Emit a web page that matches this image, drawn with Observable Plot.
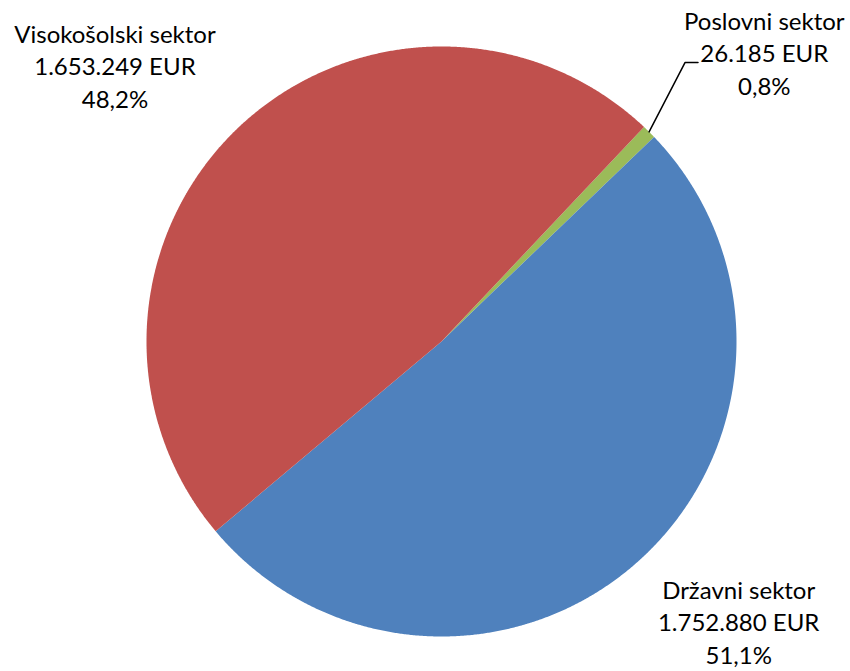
<!DOCTYPE html>
<html><head><meta charset="utf-8">
<script src="https://cdn.jsdelivr.net/npm/d3@7"></script>
<script src="https://cdn.jsdelivr.net/npm/@observablehq/plot@0.6"></script>
<style>body{margin:0;background:#fff;overflow:hidden}</style>
</head><body><div id="chart"></div>
<script>
// ---- data ----
const sectors = ["Poslovni sektor", "Državni sektor", "Visokošolski sektor"];
const amounts = [26185, 1752880, 1653249];
const amountLabels = ["26.185 EUR", "1.752.880 EUR", "1.653.249 EUR"];
const percentLabels = ["0,8%", "51,1%", "48,2%"];
const colors = ["#9BBB59", "#4F81BD", "#C0504D"];

// ---- layout ----
const W = 850, H = 671;
const cx = 441, cy = 341, R = 295;
const startAngle = 43.35;           // degrees, clockwise from 12 o'clock
const labelRadius = 1.42;
const labelOffsets = [[28, 8], [17, -32], [-39, 28]]; // px nudges per label
const fontSize = 24;
const lineGap = 32.5;

const total = d3.sum(amounts);
const rad = a => a * Math.PI / 180;
const polar = (deg, r) => ({x: r * Math.sin(rad(deg)), y: r * Math.cos(rad(deg))});

// slices via d3.pie (angles in radians from 12 o'clock, clockwise)
const pie = d3.pie().sort(null).startAngle(rad(startAngle)).endAngle(rad(startAngle + 360));
const arcs = pie(amounts);

const slicePts = [];
arcs.forEach((a, i) => {
  const a0 = a.startAngle * 180 / Math.PI, a1 = a.endAngle * 180 / Math.PI;
  slicePts.push({name: sectors[i], x: 0, y: 0});
  const n = Math.max(2, Math.ceil((a1 - a0) / 0.25));
  for (let k = 0; k <= n; k++) {
    const p = polar(a0 + (a1 - a0) * k / n, 1);
    slicePts.push({name: sectors[i], x: p.x, y: p.y});
  }
});

const labels = arcs.map((a, i) => {
  const mid = (a.startAngle + a.endAngle) / 2 * 180 / Math.PI;
  const p = polar(mid, labelRadius);
  return {name: sectors[i], x: p.x, y: p.y, dx: labelOffsets[i][0], dy: labelOffsets[i][1],
          text: sectors[i] + "\n" + amountLabels[i] + "\n" + percentLabels[i]};
});

// leader line for the small slice
const smallMid = (arcs[0].startAngle + arcs[0].endAngle) / 2 * 180 / Math.PI;
const p0 = polar(smallMid, 1.0);
const p1 = polar(smallMid - 3.6, 1.255);
const leader = [p0, p1, {x: p1.x + 13 / R, y: p1.y}];

const chart = Plot.plot({
  width: W, height: H,
  margin: 0,
  x: {domain: [-1, 1], range: [cx - R, cx + R], axis: null},
  y: {domain: [-1, 1], range: [cy + R, cy - R], axis: null},
  color: {domain: sectors, range: colors},
  style: {fontFamily: "Lato, 'Noto Sans', sans-serif", background: "#fff"},
  marks: [
    Plot.line(slicePts, {x: "x", y: "y", z: "name", fill: "name", stroke: "none", curve: "linear-closed"}),
    Plot.line(leader, {x: "x", y: "y", stroke: "#000", strokeWidth: 1.5}),
    ...labels.map(l => Plot.text([l], {x: "x", y: "y", text: "text", dx: l.dx, dy: l.dy,
      fontSize, lineHeight: lineGap / fontSize, textAnchor: "middle", fill: "#000"}))
  ]
});
document.getElementById("chart").appendChild(chart);
</script>
</body></html>
